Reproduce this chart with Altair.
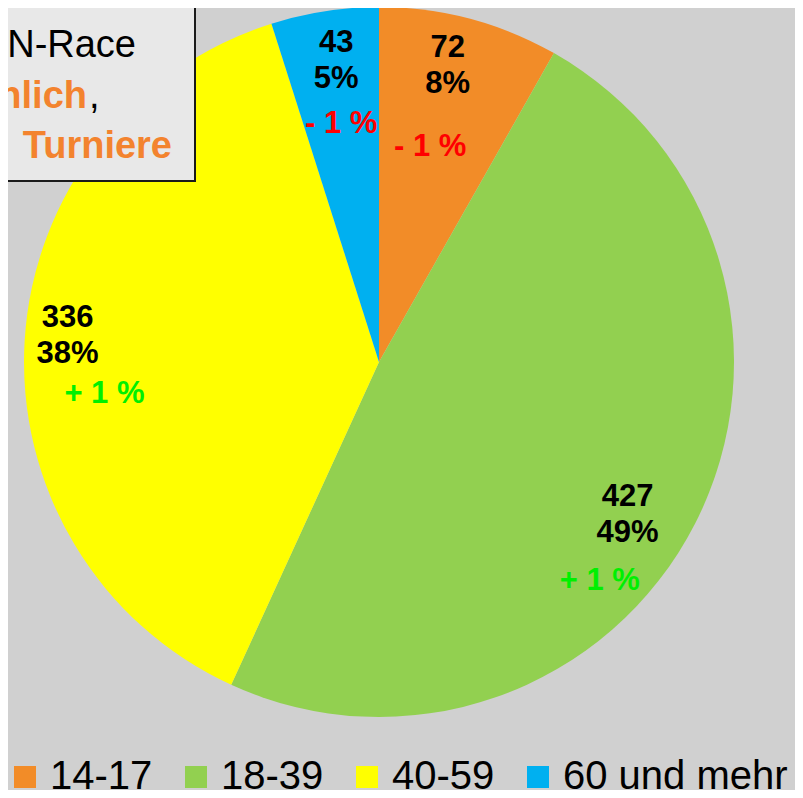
import altair as alt
import pandas as pd

# ---- data ----
categories = ["14-17", "18-39", "40-59", "60 und mehr"]
counts = [72, 427, 336, 43]
percents = ["8%", "49%", "38%", "5%"]
changes = ["- 1 %", "+ 1 %", "+ 1 %", "- 1 %"]
colors = ["#F28C28", "#92D050", "#FFFF00", "#00B0F0"]
box_lines = ["N-Race", "nlich", ",", "Turniere"]

df = pd.DataFrame({
    "cat": categories,
    "count": counts,
    "pct": percents,
    "change": changes,
    "order": list(range(len(categories))),
})
df["label"] = df["count"].astype(str) + "\n" + df["pct"]

FONT = "Liberation Sans"
CX, CY, R = 371, 354, 355
LFS = 31

# label placement styles per slice: (radius, dx, dy)
main_style = {
    "14-17": (305, -9, -19),
    "18-39": (305, -23, -4),
    "40-59": (305, -7, -25),
    "60 und mehr": (305, 4, -18),
}
delta_style = {
    "14-17": (240, -10, 17),
    "18-39": (240, 7, 110),
    "40-59": (240, -35, 47),
    "60 und mehr": (240, -1, -1),
}

theta = alt.Theta("count:Q", stack=True)
order = alt.Order("order:Q")

arc = alt.Chart(df).mark_arc(x=CX, y=CY, outerRadius=R).encode(
    theta=theta,
    order=order,
    color=alt.Color(
        "cat:N",
        scale=alt.Scale(domain=categories, range=colors),
        legend=alt.Legend(
            orient="none", legendX=-3, legendY=749, direction="horizontal",
            title=None, symbolType="square", symbolSize=484, symbolStrokeWidth=0,
            labelFontSize=40, labelFont=FONT, labelColor="black", labelOffset=5,
            columnPadding=23, padding=0, labelLimit=400, symbolOpacity=1,
        ),
    ),
)

layers = [arc]
for c in categories:
    r, dx, dy = main_style[c]
    layers.append(
        alt.Chart(df).transform_calculate(
            t=f"datum.cat == '{c}' ? datum.label : ''"
        ).mark_text(
            x=CX, y=CY, radius=r, dx=dx, dy=dy, font=FONT, fontSize=LFS,
            fontWeight="bold", color="black", lineBreak="\n", lineHeight=36,
            align="center", baseline="middle",
        ).encode(theta=theta, order=order, detail="cat:N", text="t:N")
    )
    r, dx, dy = delta_style[c]
    chg = df.loc[df.cat == c, "change"].iloc[0]
    col = "#FF0000" if chg.startswith("-") else "#00F000"
    layers.append(
        alt.Chart(df).transform_calculate(
            t=f"datum.cat == '{c}' ? datum.change : ''"
        ).mark_text(
            x=CX, y=CY, radius=r, dx=dx, dy=dy, font=FONT, fontSize=LFS,
            fontWeight="bold", color=col, align="center", baseline="middle",
        ).encode(theta=theta, order=order, detail="cat:N", text="t:N")
    )

one = pd.DataFrame({"box": [0]})
box = alt.Chart(one).mark_rect(fill="#E8E8E8", stroke="#1A1A1A", strokeWidth=2).encode(
    x=alt.value(-8), x2=alt.value(187), y=alt.value(-2), y2=alt.value(173)
)
t1 = alt.Chart(one).mark_text(text=box_lines[0], font=FONT, fontSize=38, color="black",
                              align="right", baseline="alphabetic").encode(
    x=alt.value(128), y=alt.value(49))
t2 = alt.Chart(one).mark_text(text=box_lines[1], font=FONT, fontSize=38, fontWeight="bold",
                              color="#F3832E", align="right", baseline="alphabetic").encode(
    x=alt.value(79), y=alt.value(100))
t3 = alt.Chart(one).mark_text(text=box_lines[2], font=FONT, fontSize=38, color="black",
                              align="left", baseline="alphabetic").encode(
    x=alt.value(81), y=alt.value(100))
t4 = alt.Chart(one).mark_text(text=box_lines[3], font=FONT, fontSize=38, fontWeight="bold",
                              color="#F3832E", align="right", baseline="alphabetic").encode(
    x=alt.value(164), y=alt.value(150))

chart = alt.layer(*layers, box, t1, t2, t3, t4).properties(
    width=787, height=782,
    autosize=alt.AutoSizeParams(type="none"),
    padding=0,
    background="#D0D0D0",
).configure_view(stroke=None)

chart.save("out.html", embed_options={"renderer": "svg", "actions": False})
